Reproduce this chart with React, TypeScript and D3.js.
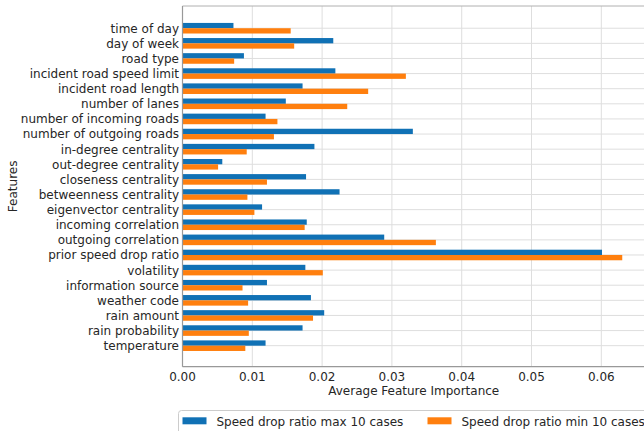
import * as d3 from 'd3';

// features, top to bottom
const features = [
  'time of day',
  'day of week',
  'road type',
  'incident road speed limit',
  'incident road length',
  'number of lanes',
  'number of incoming roads',
  'number of outgoing roads',
  'in-degree centrality',
  'out-degree centrality',
  'closeness centrality',
  'betweenness centrality',
  'eigenvector centrality',
  'incoming correlation',
  'outgoing correlation',
  'prior speed drop ratio',
  'volatility',
  'information source',
  'weather code',
  'rain amount',
  'rain probability',
  'temperature',
];
const maxCases = [
  0.0073, 0.0216, 0.0088, 0.0219, 0.0172, 0.0148, 0.0119, 0.0330, 0.0189, 0.0057, 0.0177,
  0.0225, 0.0114, 0.0178, 0.0289, 0.0601, 0.0176, 0.0121, 0.0184, 0.0203, 0.0172, 0.0119,
];
const minCases = [
  0.0155, 0.0160, 0.0074, 0.0320, 0.0266, 0.0236, 0.0136, 0.0131, 0.0092, 0.0051, 0.0121,
  0.0093, 0.0103, 0.0175, 0.0363, 0.0630, 0.0201, 0.0086, 0.0094, 0.0187, 0.0095, 0.0090,
];
const xTicks = [0, 0.01, 0.02, 0.03, 0.04, 0.05, 0.06];
const seriesNames = ['Speed drop ratio max 10 cases', 'Speed drop ratio min 10 cases'];
const colors = ['#1071b5', '#ff7f0e'];

const W = 644;
const H = 431;
const left = 182.5;
const right = 645;
const top = 6;
const bottom = 366.7;
const font = '"DejaVu Sans", sans-serif';
const textColor = '#262626';

const App = () => {
  const x = d3.scaleLinear().domain([0, 0.06626]).range([left, right]);
  const y = d3.scaleLinear().domain([-1.47, features.length - 1 + 1.39]).range([top, bottom]);
  const barH = y(0.35) - y(0);

  return (
    <svg width={W} height={H} style={{ position: 'absolute', left: 0, top: 0, background: '#fff' }}>
      {/* grid */}
      {xTicks.map(t => (
        <line key={'gx' + t} x1={x(t)} x2={x(t)} y1={top} y2={bottom} stroke="#dedede" strokeWidth={1} />
      ))}
      {features.map((f, i) => (
        <line key={'gy' + f} x1={left} x2={right} y1={y(i)} y2={y(i)} stroke="#dedede" strokeWidth={1} />
      ))}
      {/* bars */}
      {features.map((f, i) => (
        <g key={'b' + f}>
          <rect x={x(0)} y={y(i) - barH} width={x(maxCases[i]) - x(0)} height={barH} fill={colors[0]} />
          <rect x={x(0)} y={y(i)} width={x(minCases[i]) - x(0)} height={barH} fill={colors[1]} />
        </g>
      ))}
      {/* spines */}
      <line x1={left} x2={right} y1={top} y2={top} stroke="#b0b0b0" strokeWidth={1} />
      <line x1={left} x2={left} y1={top} y2={bottom} stroke="#999" strokeWidth={1.2} />
      <line x1={left} x2={right} y1={bottom} y2={bottom} stroke="#999" strokeWidth={1.2} />
      {/* y tick labels */}
      {features.map((f, i) => (
        <text key={'yl' + f} x={179} y={y(i) + 4.4} textAnchor="end" fontFamily={font} fontSize={12} fill={textColor}>
          {f}
        </text>
      ))}
      {/* x tick labels */}
      {xTicks.map(t => (
        <text key={'xl' + t} x={x(t)} y={381} textAnchor="middle" fontFamily={font} fontSize={12} fill={textColor}>
          {d3.format('.2f')(t)}
        </text>
      ))}
      <text x={(left + right) / 2} y={394.5} textAnchor="middle" fontFamily={font} fontSize={12} fill={textColor}>
        Average Feature Importance
      </text>
      <text
        transform={`translate(17, ${(top + bottom) / 2}) rotate(-90)`}
        textAnchor="middle"
        fontFamily={font}
        fontSize={12}
        fill={textColor}
      >
        Features
      </text>
      {/* legend */}
      <rect x={178.5} y={410.5} width={490} height={40} rx={3} fill="#fff" stroke="#cccccc" strokeWidth={1} />
      {seriesNames.map((s, i) => (
        <g key={s} transform={`translate(${182.5 + i * 245}, 0)`}>
          <rect x={0} y={417.3} width={24} height={7} fill={colors[i]} />
          <text x={34} y={425.5} fontFamily={font} fontSize={12} fill={textColor}>
            {s}
          </text>
        </g>
      ))}
    </svg>
  );
};

export default App;
